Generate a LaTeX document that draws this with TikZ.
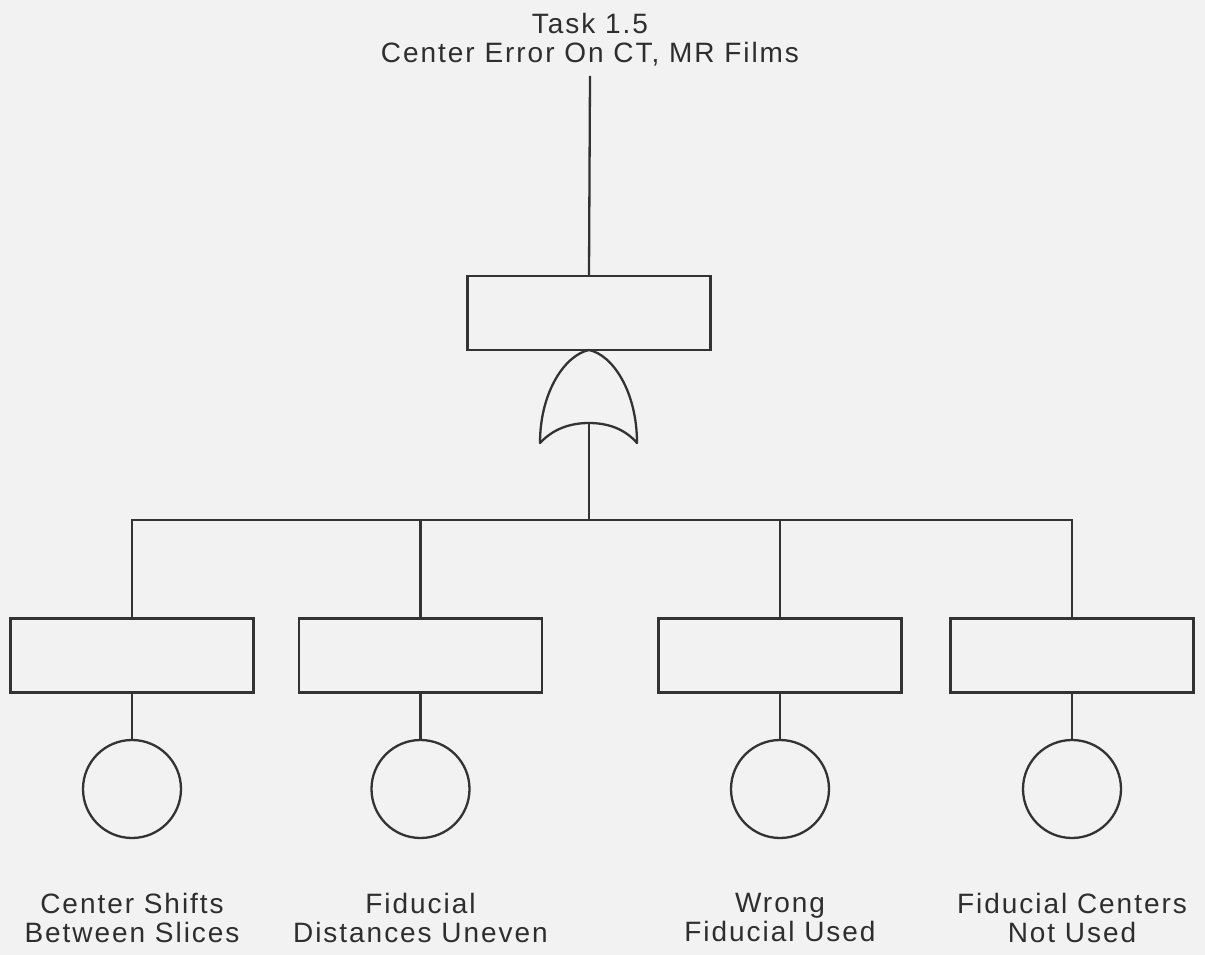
\documentclass[tikz,border=0pt]{standalone}
\usepackage{fontspec}
\setmainfont[LetterSpace=7]{Liberation Sans}
\begin{document}
\begin{tikzpicture}[x=1pt,y=-1pt,
  ink/.style={draw=black!80,line width=2.3pt},
  event/.style={ink,rectangle,minimum width=243pt,minimum height=74pt,inner sep=0pt},
  basic/.style={ink,circle,minimum size=98pt,inner sep=0pt},
  lbl/.style={text=black!82,align=center,inner sep=0pt,font=\fontsize{28}{29}\selectfont},
  wire/.style={ink,line cap=rect}]
  % canvas
  \fill[black!5] (0,0) rectangle (1205,955);
  \useasboundingbox (0,0) rectangle (1205,955);

  % top event
  \node[lbl,anchor=north,outer ysep=10pt] (title) at (590,3) {Task 1.5\\Center Error On CT, MR Films};
  \node[event] (top) at (589,313) {};

  % OR gate under the top event
  \coordinate (gtop) at (589,350);
  \coordinate (gin) at (589,423);
  \draw[ink,line join=round]
    (540,443) .. controls (540,392) and (565,355) .. (gtop)
    .. controls (613,355) and (637,392) .. (637,443)
    .. controls (625,429) and (608,423) .. (gin)
    .. controls (570,423) and (553,429) .. (540,443) -- cycle;
  \coordinate (bus) at (589,520);

  % intermediate events and basic events
  \node[event] (b1) at (132,655.5) {};
  \node[event] (b2) at (420.5,655.5) {};
  \node[event] (b3) at (780,655.5) {};
  \node[event] (b4) at (1072,655.5) {};

  \node[basic] (c1) at (132,789) {};
  \node[basic] (c2) at (420.5,789) {};
  \node[basic] (c3) at (780,789) {};
  \node[basic] (c4) at (1072,789) {};

  \node[lbl,anchor=north] (l1) at (132,893) {Center Shifts\\Between Slices};
  \node[lbl,anchor=north] (l2) at (420.5,893) {Fiducial\\Distances Uneven};
  \node[lbl,anchor=north] (l3) at (780,893) {Wrong\\Fiducial Used};
  \node[lbl,anchor=north] (l4) at (1072,893) {Fiducial Centers\\Not Used};

  % connectors
  \draw[ink] (title.south) -- (top.north);
  \draw[ink] (gin) -- (bus);
  \draw[wire] (b1.north |- bus) -- (b4.north |- bus);
  \foreach \i in {1,2,3,4} {
    \draw[ink] (b\i.north |- bus) -- (b\i.north);
    \draw[ink] (b\i.south) -- (c\i.north);
  }
\end{tikzpicture}
\end{document}
